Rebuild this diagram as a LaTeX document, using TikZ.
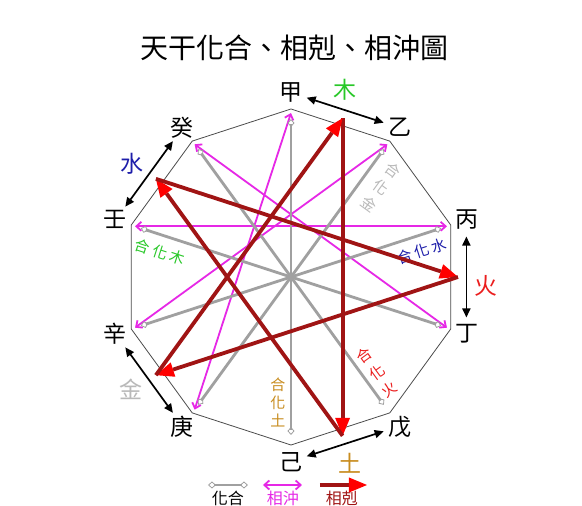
\documentclass[tikz,border=0pt]{standalone}
\usepackage{xcolor}
\usepackage{fontspec}
\setmainfont{Noto Sans CJK TC}
\usepackage{tikz}
\usetikzlibrary{arrows.meta}
\definecolor{kered}{RGB}{160,20,20}
\definecolor{chongmag}{RGB}{230,40,230}
\definecolor{hegray}{RGB}{160,160,160}
\definecolor{tugold}{RGB}{200,140,30}
\definecolor{jinsilver}{RGB}{185,185,185}
\definecolor{shuiblue}{RGB}{30,30,170}
\definecolor{mugreen}{RGB}{40,200,40}
\definecolor{huored}{RGB}{235,30,30}

\begin{document}
\begin{tikzpicture}[x=1pt,y=1pt,
  stem/.style={font=\fontsize{23}{23}\selectfont},
  hehua/.style={font=\fontsize{15}{18}\selectfont,align=center,inner sep=0pt},
  slant/.style={hehua,font=\fontsize{15}{21}\selectfont},
  he/.style={hegray,line width=2.8pt,{Diamond[open,length=8pt,width=7pt,line width=0.8pt]}-{Diamond[open,length=8pt,width=7pt,line width=0.8pt]}},
  chong/.style={chongmag,line width=1.8pt,{Straight Barb[length=5pt,width=9pt]}-{Straight Barb[length=5pt,width=9pt]}},
  ke/.style={kered,line width=3.8pt,-{Triangle[length=18pt,width=15pt,color=red,line width=0pt]}},
  pair/.style={line width=1.7pt,{Triangle[length=9pt,width=8pt]}-{Triangle[length=9pt,width=8pt]}}]
\useasboundingbox (-291,-229) rectangle (291,277);
\clip (-291,-229) rectangle (291,277);
\fill[white] (-291,-229) rectangle (291,277);
\node[font=\fontsize{28}{28}\selectfont] (title) at (4,229) {天干化合、相剋、相沖圖};
% ten stems on the decagon
\foreach \n/\a/\t in {jia/90/甲,yi/54/乙,bing/18/丙,ding/-18/丁,wu/-54/戊,ji/-90/己,geng/-126/庚,xin/-162/辛,ren/162/壬,gui/126/癸}{
\coordinate (\n) at (\a:168);
\coordinate (\n-d) at (\a:158);
\coordinate (\n-m) at (\a:164);
\node[stem] (\n-lab) at (\a:185) {\t};
}
\draw[line width=0.8pt,black!70] (jia) -- (yi) -- (bing) -- (ding) -- (wu) -- (ji) -- (geng) -- (xin) -- (ren) -- (gui) -- cycle;
\foreach \p/\q in {jia/geng,yi/xin,bing/ren,ding/gui}{
\draw[chong] (\p-m) -- (\q-m);
}
\foreach \p/\q in {jia/ji,yi/geng,bing/xin,ding/ren,wu/gui}{
\draw[he] (\p-d) -- (\q-d);
}
\node[hehua,text=tugold] (tu-he) at (-13,-125) {合\\化\\土};
\node[slant,text=jinsilver,rotate=-36] (jin-he) at (90,90) {合\\化\\金};
\node[hehua,text=shuiblue,rotate=18] (shui-he) at (131,26) {合\hspace{3pt}化\hspace{3pt}水};
\node[hehua,text=mugreen,rotate=-18] (mu-he) at (-131,25) {合\hspace{3pt}化\hspace{3pt}木};
\node[slant,text=huored,rotate=36] (huo-he) at (86,-95) {合\\化\\火};
% five elements
\foreach \n/\m/\l/\t/\c in {mu/72/74/木/mugreen,huo/0/-2.5/火/huored,tu/-72/-72.5/土/tugold,jin/-144/-145/金/jinsilver,shui/144/144.5/水/shuiblue}{
\coordinate (\n) at (\m:167);
\coordinate (\n-a) at ({\m+13}:180);
\coordinate (\n-b) at ({\m-13}:180);
\draw[pair] (\n-a) -- (\n-b);
\node[stem,text=\c] (\n-lab) at (\l:195) {\t};
}
\foreach \p/\q in {mu/tu,tu/shui,shui/huo,huo/jin,jin/mu}{
\draw[ke] (\p) -- (\q);
}
% legend
\coordinate (lg-he-a) at (-83,-208);
\coordinate (lg-he-b) at (-43,-208);
\coordinate (lg-chong-a) at (-28,-208);
\coordinate (lg-chong-b) at (11,-208);
\coordinate (lg-ke-a) at (29,-208);
\coordinate (lg-ke-b) at (76,-208);
\draw[he,line width=2pt] (lg-he-a) -- (lg-he-b);
\draw[chong] (lg-chong-a) -- (lg-chong-b);
\draw[ke] (lg-ke-a) -- (lg-ke-b);
\node[hehua,font=\fontsize{16}{16}\selectfont] (lg-he) at (-63,-221) {化合};
\node[hehua,font=\fontsize{16}{16}\selectfont,text=chongmag] (lg-chong) at (-8,-221) {相沖};
\node[hehua,font=\fontsize{16}{16}\selectfont,text=kered] (lg-ke) at (51,-221) {相剋};
\end{tikzpicture}
\end{document}
